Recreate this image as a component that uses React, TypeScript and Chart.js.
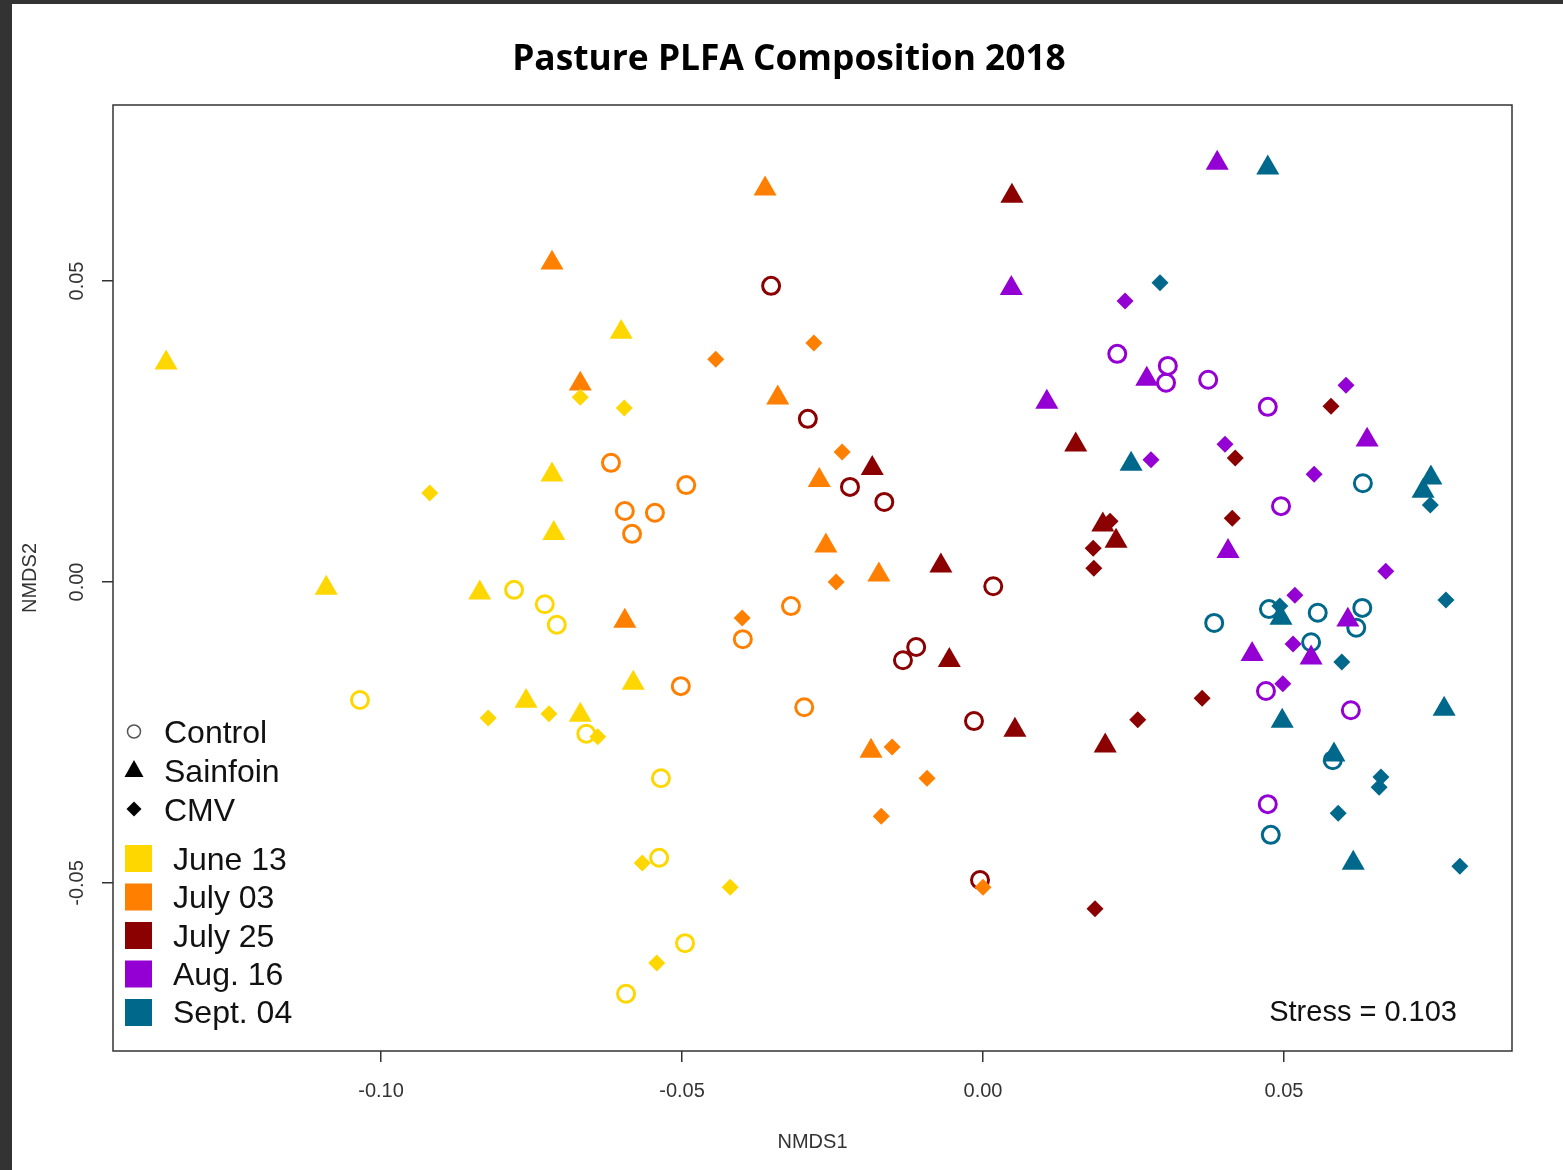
import React, { useEffect, useRef } from 'react';
import { Chart, registerables } from 'chart.js';

Chart.register(...registerables);

// ---- Data (NMDS1, NMDS2) per sampling date and treatment ----
const june13Control = [[-0.0779, -0.0013], [-0.0728, -0.0037], [-0.0708, -0.0071], [-0.1035, -0.0196], [-0.0659, -0.0252], [-0.0535, -0.0326], [-0.0538, -0.0458], [-0.0495, -0.0600], [-0.0593, -0.0684]];
const june13Sainfoin = [[-0.1357, 0.0364], [-0.0601, 0.0415], [-0.0716, 0.0178], [-0.0713, 0.0081], [-0.1091, -0.0010], [-0.0836, -0.0018], [-0.0759, -0.0198], [-0.0669, -0.0221], [-0.0581, -0.0168]];
const june13CMV = [[-0.0669, 0.0307], [-0.0596, 0.0289], [-0.0919, 0.0148], [-0.0822, -0.0226], [-0.0721, -0.0219], [-0.0640, -0.0257], [-0.0566, -0.0467], [-0.0420, -0.0507], [-0.0542, -0.0633]];

const july03Control = [[-0.0618, 0.0198], [-0.0493, 0.0161], [-0.0595, 0.0118], [-0.0545, 0.0115], [-0.0583, 0.0080], [-0.0319, -0.0040], [-0.0399, -0.0095], [-0.0502, -0.0173], [-0.0297, -0.0208]];
const july03Sainfoin = [[-0.0716, 0.0530], [-0.0362, 0.0653], [-0.0669, 0.0329], [-0.0341, 0.0306], [-0.0272, 0.0169], [-0.0261, 0.0060], [-0.0173, 0.0012], [-0.0595, -0.0065], [-0.0186, -0.0281]];
const july03CMV = [[-0.0444, 0.0370], [-0.0281, 0.0397], [-0.0234, 0.0216], [-0.0244, 0.0000], [-0.0400, -0.0060], [-0.0151, -0.0274], [-0.0093, -0.0326], [-0.0169, -0.0389], [0.0000, -0.0507]];

const july25Control = [[-0.0352, 0.0492], [-0.0291, 0.0271], [-0.0221, 0.0158], [-0.0164, 0.0133], [0.0017, -0.0007], [-0.0111, -0.0108], [-0.0133, -0.0130], [-0.0015, -0.0231], [-0.0005, -0.0495]];
const july25Sainfoin = [[0.0048, 0.0641], [-0.0184, 0.0189], [-0.0070, 0.0027], [-0.0056, -0.0130], [0.0053, -0.0246], [0.0154, 0.0228], [0.0199, 0.0095], [0.0221, 0.0068], [0.0203, -0.0272]];
const july25CMV = [[0.0578, 0.0292], [0.0419, 0.0206], [0.0414, 0.0106], [0.0211, 0.0101], [0.0183, 0.0056], [0.0184, 0.0023], [0.0364, -0.0193], [0.0257, -0.0229], [0.0186, -0.0543]];

const aug16Control = [[0.0223, 0.0379], [0.0307, 0.0359], [0.0304, 0.0331], [0.0374, 0.0336], [0.0473, 0.0291], [0.0495, 0.0126], [0.0470, -0.0181], [0.0611, -0.0213], [0.0473, -0.0369]];
const aug16Sainfoin = [[0.0389, 0.0696], [0.0047, 0.0488], [0.0106, 0.0299], [0.0272, 0.0337], [0.0638, 0.0236], [0.0407, 0.0051], [0.0606, -0.0063], [0.0447, -0.0120], [0.0545, -0.0126]];
const aug16CMV = [[0.0236, 0.0467], [0.0603, 0.0327], [0.0402, 0.0229], [0.0279, 0.0203], [0.0550, 0.0179], [0.0669, 0.0018], [0.0518, -0.0022], [0.0515, -0.0103], [0.0498, -0.0169]];

const sept04Control = [[0.0631, 0.0164], [0.0475, -0.0045], [0.0556, -0.0051], [0.0630, -0.0043], [0.0620, -0.0076], [0.0384, -0.0068], [0.0545, -0.0100], [0.0581, -0.0296], [0.0478, -0.0420]];
const sept04Sainfoin = [[0.0473, 0.0688], [0.0246, 0.0196], [0.0744, 0.0173], [0.0731, 0.0151], [0.0495, -0.0060], [0.0766, -0.0211], [0.0497, -0.0231], [0.0583, -0.0287], [0.0615, -0.0467]];
const sept04CMV = [[0.0294, 0.0497], [0.0743, 0.0128], [0.0769, -0.0030], [0.0493, -0.0040], [0.0596, -0.0133], [0.0661, -0.0324], [0.0658, -0.0341], [0.0590, -0.0384], [0.0792, -0.0472]];

const dateLabels = ['June 13', 'July 03', 'July 25', 'Aug. 16', 'Sept. 04'];
const dateColors = ['#FFD700', '#FF7F00', '#8B0000', '#9400D3', '#00688B'];
const treatmentLabels = ['Control', 'Sainfoin', 'CMV'];

const xTicks = [-0.1, -0.05, 0.0, 0.05];
const xTickLabels = ['-0.10', '-0.05', '0.00', '0.05'];
const yTicks = [-0.05, 0.0, 0.05];
const yTickLabels = ['-0.05', '0.00', '0.05'];

const titleText = 'Pasture PLFA Composition 2018';
const xAxisTitle = 'NMDS1';
const yAxisTitle = 'NMDS2';
const stressText = 'Stress = 0.103';

const groups = [
  { date: 0, trt: 0, pts: june13Control },
  { date: 0, trt: 1, pts: june13Sainfoin },
  { date: 0, trt: 2, pts: june13CMV },
  { date: 1, trt: 0, pts: july03Control },
  { date: 1, trt: 1, pts: july03Sainfoin },
  { date: 1, trt: 2, pts: july03CMV },
  { date: 2, trt: 0, pts: july25Control },
  { date: 2, trt: 1, pts: july25Sainfoin },
  { date: 2, trt: 2, pts: july25CMV },
  { date: 3, trt: 0, pts: aug16Control },
  { date: 3, trt: 1, pts: aug16Sainfoin },
  { date: 3, trt: 2, pts: aug16CMV },
  { date: 4, trt: 0, pts: sept04Control },
  { date: 4, trt: 1, pts: sept04Sainfoin },
  { date: 4, trt: 2, pts: sept04CMV },
];

const AXIS_FONT = '"Liberation Sans", Arial, sans-serif';

const decorPlugin = {
  id: 'decor',
  beforeDraw(chart: any) {
    const { ctx, width, height } = chart;
    ctx.save();
    ctx.fillStyle = '#ffffff';
    ctx.fillRect(0, 0, width, height);
    ctx.fillStyle = '#333333';
    ctx.fillRect(0, 0, 12, height);
    ctx.fillRect(0, 0, width, 4);
    ctx.restore();
  },
  afterDraw(chart: any) {
    const { ctx, chartArea } = chart;
    const xs = chart.scales.x;
    const ys = chart.scales.y;
    ctx.save();
    // plot box
    ctx.strokeStyle = '#333333';
    ctx.lineWidth = 1.5;
    ctx.strokeRect(chartArea.left, chartArea.top, chartArea.right - chartArea.left, chartArea.bottom - chartArea.top);

    // x tick labels
    ctx.fillStyle = '#333333';
    ctx.font = `20px ${AXIS_FONT}`;
    ctx.textAlign = 'center';
    ctx.textBaseline = 'alphabetic';
    xTicks.forEach((v, i) => {
      ctx.fillText(xTickLabels[i], xs.getPixelForValue(v), 1097);
    });
    // y tick labels (rotated)
    yTicks.forEach((v, i) => {
      ctx.save();
      ctx.translate(83, ys.getPixelForValue(v));
      ctx.rotate(-Math.PI / 2);
      ctx.fillText(yTickLabels[i], 0, 0);
      ctx.restore();
    });
    // axis titles
    ctx.fillText(xAxisTitle, (chartArea.left + chartArea.right) / 2, 1148);
    ctx.save();
    ctx.translate(36, (chartArea.top + chartArea.bottom) / 2);
    ctx.rotate(-Math.PI / 2);
    ctx.fillText(yAxisTitle, 0, 0);
    ctx.restore();

    // title
    ctx.fillStyle = '#000000';
    ctx.font = 'bold 36px "Open Sans", Lato, sans-serif';
    const w = ctx.measureText(titleText).width;
    const size = (36 * 554) / w;
    ctx.font = `bold ${size.toFixed(2)}px "Open Sans", Lato, sans-serif`;
    ctx.fillText(titleText, 789, 70);

    // legend: treatments
    ctx.textAlign = 'left';
    ctx.font = `32px ${AXIS_FONT}`;
    ctx.fillStyle = '#111111';
    const shapeBase = [743, 782, 821];
    treatmentLabels.forEach((t, i) => {
      ctx.fillText(t, 164, shapeBase[i]);
    });
    // circle icon
    ctx.beginPath();
    ctx.arc(134, 731.5, 6.5, 0, Math.PI * 2);
    ctx.strokeStyle = '#555555';
    ctx.lineWidth = 1.5;
    ctx.stroke();
    // triangle icon
    ctx.beginPath();
    ctx.moveTo(134, 760);
    ctx.lineTo(143.5, 777);
    ctx.lineTo(124.5, 777);
    ctx.closePath();
    ctx.fillStyle = '#000000';
    ctx.fill();
    // diamond icon
    ctx.beginPath();
    ctx.moveTo(134, 801.5);
    ctx.lineTo(141.5, 809);
    ctx.lineTo(134, 816.5);
    ctx.lineTo(126.5, 809);
    ctx.closePath();
    ctx.fill();

    // legend: dates
    dateLabels.forEach((d, i) => {
      const top = 845 + i * 38.5;
      ctx.fillStyle = dateColors[i];
      ctx.fillRect(125, top, 27, 27);
      ctx.fillStyle = '#111111';
      ctx.fillText(d, 173, 870 + i * 38.3);
    });

    // stress
    ctx.textAlign = 'right';
    ctx.font = `29px ${AXIS_FONT}`;
    ctx.fillText(stressText, 1457, 1021);
    ctx.restore();
  },
};

function makeDataset(g: { date: number; trt: number; pts: number[][] }) {
  const color = dateColors[g.date];
  const data = g.pts.map((p) => ({ x: p[0], y: p[1] }));
  const label = `${dateLabels[g.date]} ${treatmentLabels[g.trt]}`;
  if (g.trt === 0) {
    return {
      label,
      data,
      pointStyle: 'circle',
      pointRadius: 8.5,
      pointBorderWidth: 3,
      pointBackgroundColor: 'rgba(0,0,0,0)',
      pointBorderColor: color,
    };
  }
  if (g.trt === 1) {
    return {
      label,
      data,
      pointStyle: 'triangle',
      pointRadius: 13.3,
      pointBorderWidth: 0,
      pointBackgroundColor: color,
      pointBorderColor: color,
    };
  }
  return {
    label,
    data,
    pointStyle: 'rectRot',
    pointRadius: 8.5,
    pointBorderWidth: 0,
    pointBackgroundColor: color,
    pointBorderColor: color,
  };
}

export default function App() {
  const canvasRef = useRef<HTMLCanvasElement | null>(null);

  useEffect(() => {
    document.body.style.margin = '0';
    const canvas = canvasRef.current;
    if (!canvas) return;
    const chart = new Chart(canvas, {
      type: 'scatter',
      data: { datasets: groups.map(makeDataset) as any },
      options: {
        animation: false,
        responsive: false,
        devicePixelRatio: 1,
        events: [],
        layout: { padding: { left: 0, right: 51, top: 105, bottom: 0 } },
        plugins: {
          legend: { display: false },
          title: { display: false },
          tooltip: { enabled: false },
        },
        scales: {
          x: {
            type: 'linear',
            min: -0.14452,
            max: 0.08787,
            afterBuildTicks: (s: any) => {
              s.ticks = xTicks.map((v) => ({ value: v }));
            },
            afterFit: (s: any) => {
              s.height = 119;
            },
            ticks: { display: false },
            grid: { display: true, drawOnChartArea: false, drawTicks: true, tickLength: 11, color: '#333333', lineWidth: 1.5 },
            border: { display: false },
          },
          y: {
            type: 'linear',
            min: -0.07791,
            max: 0.07924,
            afterBuildTicks: (s: any) => {
              s.ticks = yTicks.map((v) => ({ value: v }));
            },
            afterFit: (s: any) => {
              s.width = 113;
            },
            ticks: { display: false },
            grid: { display: true, drawOnChartArea: false, drawTicks: true, tickLength: 11, color: '#333333', lineWidth: 1.5 },
            border: { display: false },
          },
        },
      } as any,
      plugins: [decorPlugin],
    });
    return () => chart.destroy();
  }, []);

  return (
    <div style={{ width: 1563, height: 1170, position: 'relative', background: '#fff' }}>
      <canvas ref={canvasRef} width={1563} height={1170} style={{ display: 'block' }} />
    </div>
  );
}
